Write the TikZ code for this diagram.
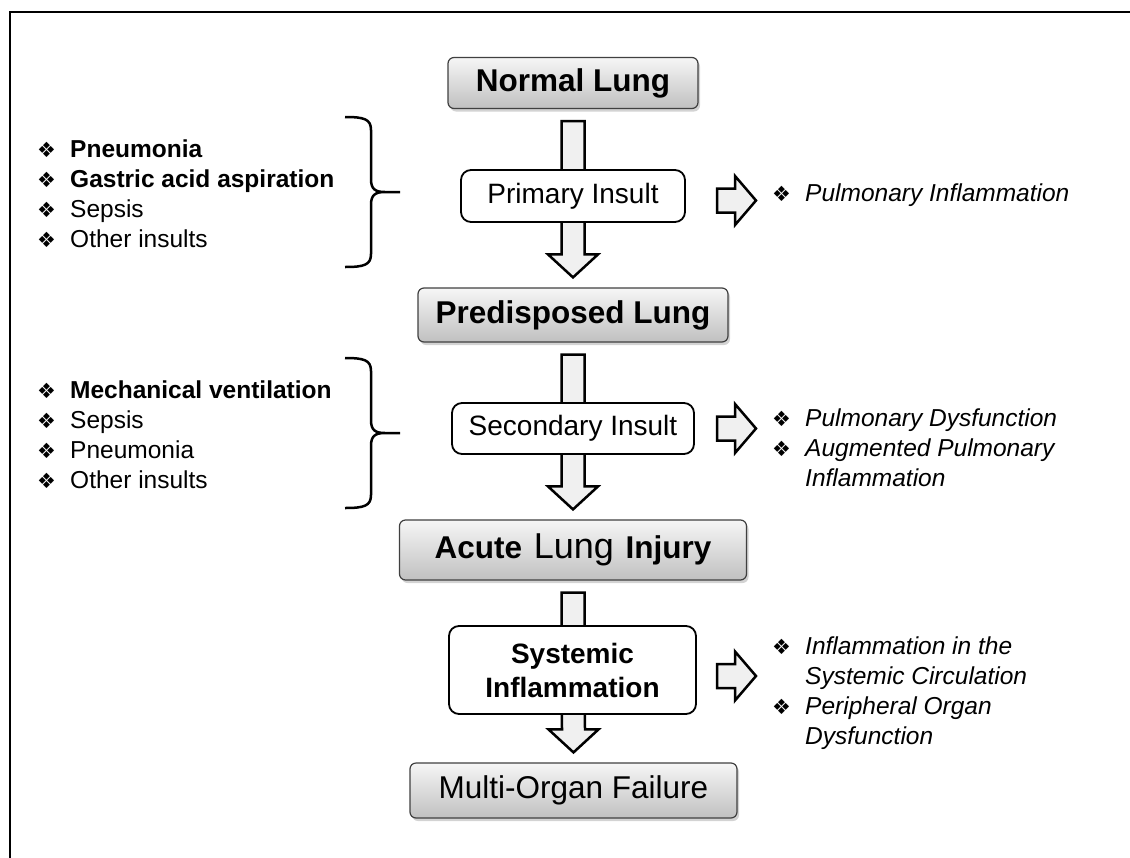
\documentclass[tikz,border=0pt]{standalone}
\usepackage{fontspec}
\setmainfont{Liberation Sans}
\newfontfamily\dingfont{DejaVu Sans}
\usepackage{tikz}
\usetikzlibrary{calc, backgrounds, shadows}
\definecolor{boxtop}{RGB}{246, 246, 246}
\definecolor{boxbot}{RGB}{192, 192, 192}
\definecolor{boxline}{RGB}{64, 64, 64}
\definecolor{arrowfill}{RGB}{240, 240, 240}

\newcommand{\itemmark}{\makebox[33pt][l]{\upshape\dingfont\fontsize{21}{21}\selectfont ❖}}
\newcommand{\itemgap}{\hspace*{33pt}}

% block arrow from one stage down to the next
\newcommand{\stagearrow}[2]{%
  \draw[blockarrow] ($(#1.south)+(-11.5,12)$) -- ($(#1.south)+(11.5,12)$)
    -- ($(#2.north)+(11.5,-33)$) -- ($(#2.north)+(25,-33)$)
    -- ($(#2.north)+(0,-10)$) -- ($(#2.north)+(-25,-33)$)
    -- ($(#2.north)+(-11.5,-33)$) -- cycle;}
\newcommand{\sidearrow}[1]{%
  \draw[blockarrow, shift={#1}] (0,-12) -- (18,-12) -- (18,-24.5) -- (39,0)
    -- (18,24.5) -- (18,12) -- (0,12) -- cycle;}
\newcommand{\insultbrace}[1]{%
  \draw[bracestyle, shift={#1}] (-55,-75) .. controls (-36,-75) and (-29,-73) .. (-29,-62)
    -- (-29,-13) .. controls (-29,-3) and (-25,0) .. (-15,0) -- (0,0)
    (-15,0) .. controls (-25,0) and (-29,3) .. (-29,13)
    -- (-29,62) .. controls (-29,73) and (-36,75) .. (-55,75);}

\begin{document}
\begin{tikzpicture}[x=1pt, y=-1pt,
  stage/.style={draw=boxline, line width=1.2pt, rounded corners=6pt,
    top color=boxtop, bottom color=boxbot, inner sep=0pt,
    drop shadow={shadow xshift=2pt, shadow yshift=-3pt, opacity=0.35},
    font=\fontsize{31.5}{36}\selectfont\bfseries},
  insult/.style={draw=black, line width=1.8pt, rounded corners=10pt, fill=white,
    inner sep=0pt, align=center, font=\fontsize{28}{34}\selectfont},
  causes/.style={anchor=west, align=left, inner sep=0pt,
    font=\fontsize{24.5}{30}\selectfont},
  effects/.style={causes, font=\fontsize{24.5}{30}\selectfont\itshape},
  blockarrow/.style={draw=black, line width=2.5pt, fill=arrowfill},
  bracestyle/.style={draw=black, line width=2.5pt}]
  \useasboundingbox (0,0) rectangle (1130,857);
  \draw[line width=2.5pt] (10,870) -- (10,12) -- (1140,12);

  % stages
  \node[stage, minimum width=250pt, minimum height=51pt] (normal) at (573,83) {Normal Lung};
  \node[stage, minimum width=310pt, minimum height=54pt] (predisposed) at (573,315) {Predisposed Lung};
  \node[stage, minimum width=347pt, minimum height=60pt] (acute) at (573,550)
    {Acute\hspace{3pt} {\mdseries\fontsize{36}{36}\selectfont Lung}\hspace{3pt} Injury};
  \node[stage, minimum width=327pt, minimum height=55pt, font=\fontsize{31.5}{36}\selectfont]
    (failure) at (573.5,790.5) {Multi-Organ Failure};

  % insults
  \node[insult, minimum width=224pt, minimum height=52pt] (primary) at (573,196) {Primary Insult};
  \node[insult, minimum width=242pt, minimum height=51pt] (secondary) at (573,428.5) {Secondary Insult};
  \node[insult, minimum width=247pt, minimum height=88pt] (systemic) at (572.5,670)
    {\bfseries Systemic\\\bfseries Inflammation};

  \begin{scope}[on background layer]
    \stagearrow{normal}{predisposed}
    \stagearrow{predisposed}{acute}
    \stagearrow{acute}{failure}
  \end{scope}

  % causes on the left
  \node[causes] (causes1) at (37,194) {\itemmark\textbf{Pneumonia}\\
    \itemmark\textbf{Gastric acid aspiration}\\ \itemmark Sepsis\\ \itemmark Other insults};
  \node[causes] (causes2) at (37,435) {\itemmark\textbf{Mechanical ventilation}\\
    \itemmark Sepsis\\ \itemmark Pneumonia\\ \itemmark Other insults};
  \coordinate (brace1) at (400,192);
  \coordinate (brace2) at (400,433);
  \insultbrace{(brace1)}
  \insultbrace{(brace2)}

  % effects on the right
  \coordinate (arrowx) at (717,0);
  \sidearrow{($(primary.east -| arrowx)+(0,4.5)$)}
  \sidearrow{(secondary.east -| arrowx)}
  \sidearrow{($(systemic.east -| arrowx)+(0,6)$)}
  \node[effects] (effect1) at (772,195) {\itemmark Pulmonary Inflammation};
  \node[effects] (effect2) at (772,448) {\itemmark Pulmonary Dysfunction\\
    \itemmark Augmented Pulmonary\\ \itemgap Inflammation};
  \node[effects] (effect3) at (772,693) {\itemmark Inflammation in the\\
    \itemgap Systemic Circulation\\ \itemmark Peripheral Organ\\ \itemgap Dysfunction};
\end{tikzpicture}
\end{document}
